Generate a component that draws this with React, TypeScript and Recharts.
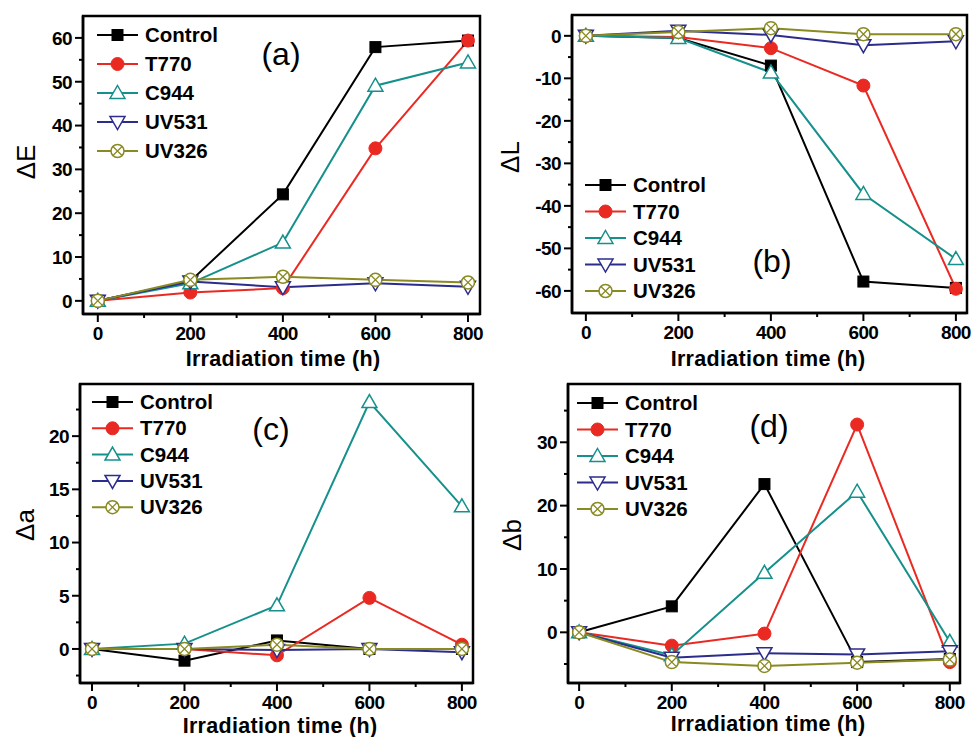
import React from "react";
import { LineChart, Line, XAxis, YAxis, ReferenceArea } from "recharts";

const FONT = '"Liberation Sans", Arial, Helvetica, sans-serif';

// x values (irradiation time, h)
const TIMES = [0, 200, 400, 600, 800];
const X_MAJOR = [0, 200, 400, 600, 800];
const X_MINOR = [100, 300, 500, 700];

const SERIES_NAMES = ["Control", "T770", "C944", "UV531", "UV326"];
const SERIES_COLORS = ["#000000", "#ea2a22", "#16908b", "#2c2c8c", "#8a8a22"];
const SERIES_MARKERS = ["square", "circle", "up", "down", "cross"];

// (a) delta E
const E_CONTROL = [0, 4.5, 24.3, 57.9, 59.4];
const E_T770 = [0, 1.9, 2.9, 34.8, 59.4];
const E_C944 = [0, 4.0, 13.3, 49.1, 54.4];
const E_UV531 = [0, 4.4, 3.1, 4.0, 3.2];
const E_UV326 = [0, 4.8, 5.5, 4.8, 4.2];
const E_MAJOR = [0, 10, 20, 30, 40, 50, 60];
const E_MINOR = [5, 15, 25, 35, 45, 55];

// (b) delta L
const L_CONTROL = [0, -0.5, -7, -57.8, -59.3];
const L_T770 = [0, -0.3, -2.9, -11.7, -59.5];
const L_C944 = [0, -0.5, -8.6, -37.2, -52.5];
const L_UV531 = [0, 1.2, 0.2, -2.2, -1.3];
const L_UV326 = [0, 0.9, 1.8, 0.4, 0.4];
const L_MAJOR = [-60, -50, -40, -30, -20, -10, 0];
const L_MINOR = [-55, -45, -35, -25, -15, -5];

// (c) delta a
const A_CONTROL = [0, -1.1, 0.8, 0, 0];
const A_T770 = [0, 0, -0.6, 4.8, 0.4];
const A_C944 = [0, 0.5, 4.1, 23.2, 13.4];
const A_UV531 = [0, 0, -0.1, 0, -0.3];
const A_UV326 = [0, 0, 0.4, 0, 0];
const A_MAJOR = [0, 5, 10, 15, 20];
const A_MINOR = [-2.5, 2.5, 7.5, 12.5, 17.5, 22.5];

// (d) delta b
const B_CONTROL = [0, 4.1, 23.4, -4.7, -4.2];
const B_T770 = [0, -2.1, -0.2, 32.8, -4.7];
const B_C944 = [0, -3.6, 9.4, 22.2, -1.5];
const B_UV531 = [0, -4.0, -3.3, -3.5, -3.0];
const B_UV326 = [0, -4.7, -5.3, -4.8, -4.3];
const B_MAJOR = [0, 10, 20, 30];
const B_MINOR = [-5, 5, 15, 25, 35];

const YW = 78;
const MT = 10;
const MR = 6;
const XH = 50;

type Panel = {
  id: string;
  series: number[][];
  yDomain: [number, number];
  xDomain: [number, number];
  yMajor: number[];
  yMinor: number[];
  rect: { l: number; t: number; r: number; b: number };
};

const PANELS: Panel[] = [
  {
    id: "a",
    series: [E_CONTROL, E_T770, E_C944, E_UV531, E_UV326],
    yDomain: [-3, 65],
    xDomain: [-32, 826],
    yMajor: E_MAJOR,
    yMinor: E_MINOR,
    rect: { l: 83, t: 16, r: 480, b: 314 },
  },
  {
    id: "b",
    series: [L_CONTROL, L_T770, L_C944, L_UV531, L_UV326],
    yDomain: [-65.2, 4.9],
    xDomain: [-30, 824],
    yMajor: L_MAJOR,
    yMinor: L_MINOR,
    rect: { l: 572, t: 15, r: 967, b: 313 },
  },
  {
    id: "c",
    series: [A_CONTROL, A_T770, A_C944, A_UV531, A_UV326],
    yDomain: [-3.2, 24.9],
    xDomain: [-26, 824],
    yMajor: A_MAJOR,
    yMinor: A_MINOR,
    rect: { l: 80, t: 384, r: 473, b: 683 },
  },
  {
    id: "d",
    series: [B_CONTROL, B_T770, B_C944, B_UV531, B_UV326],
    yDomain: [-8, 39.2],
    xDomain: [-24, 822],
    yMajor: B_MAJOR,
    yMinor: B_MINOR,
    rect: { l: 568, t: 384, r: 960, b: 683 },
  },
];

// overlay text positions
const LEGENDS = [
  { x: 97, y: 35, step: 29 },
  { x: 585, y: 185, step: 26.5 },
  { x: 92, y: 402, step: 26.3 },
  { x: 577, y: 403, step: 26.5 },
];
const LETTERS = [
  { text: "(a)", x: 281, y: 55 },
  { text: "(b)", x: 772, y: 262 },
  { text: "(c)", x: 271, y: 430 },
  { text: "(d)", x: 769, y: 427 },
];
const Y_TITLES = [
  { text: "ΔE", x: 26, y: 162 },
  { text: "ΔL", x: 510, y: 157 },
  { text: "Δa", x: 25, y: 525 },
  { text: "Δb", x: 512, y: 535 },
];
const X_TITLES = [
  { x: 283, y: 366 },
  { x: 768, y: 366 },
  { x: 280, y: 733 },
  { x: 768, y: 731 },
];

function Marker({ kind, cx, cy, color }: { kind: string; cx: number; cy: number; color: string }) {
  if (kind === "square")
    return <rect x={cx - 5.5} y={cy - 5.5} width={11} height={11} fill={color} stroke={color} />;
  if (kind === "circle") return <circle cx={cx} cy={cy} r={6.5} fill={color} stroke={color} />;
  if (kind === "up")
    return (
      <path
        d={`M${cx},${cy - 7.5} L${cx + 7.5},${cy + 5.5} L${cx - 7.5},${cy + 5.5} Z`}
        fill="#fff"
        stroke={color}
        strokeWidth={1.5}
      />
    );
  if (kind === "down")
    return (
      <path
        d={`M${cx - 7.5},${cy - 5.5} L${cx + 7.5},${cy - 5.5} L${cx},${cy + 7.5} Z`}
        fill="#fff"
        stroke={color}
        strokeWidth={1.5}
      />
    );
  return (
    <g>
      <circle cx={cx} cy={cy} r={6.5} fill="#fff" stroke={color} strokeWidth={1.5} />
      <path
        d={`M${cx - 4.3},${cy - 4.3} L${cx + 4.3},${cy + 4.3} M${cx - 4.3},${cy + 4.3} L${cx + 4.3},${cy - 4.3}`}
        stroke={color}
        strokeWidth={1.3}
      />
    </g>
  );
}

function makeXTick(major: number[]) {
  return (p: any) => {
    const { x, y, payload } = p;
    const v = payload.value;
    const isMajor = major.includes(v);
    return (
      <g key={`xt${v}`}>
        <line x1={x} x2={x} y1={y} y2={y + (isMajor ? 8 : 4)} stroke="#000" strokeWidth={2} />
        {isMajor && (
          <text
            x={x}
            y={y + 26}
            textAnchor="middle"
            fontFamily={FONT}
            fontWeight="bold"
            fontSize={19}
            letterSpacing={-0.6}
            fill="#000"
          >
            {v}
          </text>
        )}
      </g>
    );
  };
}

function makeYTick(major: number[]) {
  return (p: any) => {
    const { x, y, payload } = p;
    const v = payload.value;
    const isMajor = major.includes(v);
    return (
      <g key={`yt${v}`}>
        <line x1={x} x2={x - (isMajor ? 8 : 4)} y1={y} y2={y} stroke="#000" strokeWidth={2} />
        {isMajor && (
          <text
            x={x - 11}
            y={y}
            dy="0.36em"
            textAnchor="end"
            fontFamily={FONT}
            fontWeight="bold"
            fontSize={19}
            letterSpacing={-0.6}
            fill="#000"
          >
            {v}
          </text>
        )}
      </g>
    );
  };
}

function PanelChart({ cfg }: { cfg: Panel }) {
  const rows = TIMES.map((t, i) => {
    const row: any = { t };
    SERIES_NAMES.forEach((name, s) => {
      row[name] = cfg.series[s][i];
    });
    return row;
  });
  const { l, t, r, b } = cfg.rect;
  const w = r - l + YW + MR;
  const h = b - t + MT + XH;
  const xTicks = [...X_MAJOR, ...X_MINOR].sort((p, q) => p - q);
  const yTicks = [...cfg.yMajor, ...cfg.yMinor].sort((p, q) => p - q);

  return (
    <div style={{ position: "absolute", left: l - YW, top: t - MT, width: w, height: h }}>
      <LineChart width={w} height={h} data={rows} margin={{ top: MT, right: MR, bottom: 0, left: 0 }}>
        <XAxis
          dataKey="t"
          type="number"
          domain={cfg.xDomain}
          ticks={xTicks}
          interval={0}
          allowDataOverflow
          height={XH}
          tickSize={0}
          tickMargin={0}
          tickLine={false}
          axisLine={{ stroke: "#000", strokeWidth: 2.5 }}
          tick={makeXTick(X_MAJOR)}
        />
        <YAxis
          type="number"
          domain={cfg.yDomain}
          ticks={yTicks}
          interval={0}
          allowDataOverflow
          width={YW}
          tickSize={0}
          tickMargin={0}
          tickLine={false}
          axisLine={{ stroke: "#000", strokeWidth: 2.5 }}
          tick={makeYTick(cfg.yMajor)}
        />
        <ReferenceArea
          x1={cfg.xDomain[0]}
          x2={cfg.xDomain[1]}
          y1={cfg.yDomain[0]}
          y2={cfg.yDomain[1]}
          fill="none"
          stroke="#000"
          strokeWidth={2.5}
          ifOverflow="visible"
        />
        {SERIES_NAMES.map((name, s) => (
          <Line
            key={name}
            dataKey={name}
            stroke={SERIES_COLORS[s]}
            strokeWidth={2}
            activeDot={false}
            isAnimationActive={false}
            dot={(p: any) => (
              <Marker
                key={`${name}-${p.index}`}
                kind={SERIES_MARKERS[s]}
                cx={p.cx}
                cy={p.cy}
                color={SERIES_COLORS[s]}
              />
            )}
          />
        ))}
      </LineChart>
    </div>
  );
}

function Overlay() {
  return (
    <svg
      width={971}
      height={737}
      style={{ position: "absolute", left: 0, top: 0, pointerEvents: "none" }}
    >
      {LEGENDS.map((lg, k) => (
        <g key={`lg${k}`}>
          {SERIES_NAMES.map((name, s) => {
            const cy = lg.y + s * lg.step;
            return (
              <g key={name}>
                <line x1={lg.x} x2={lg.x + 41} y1={cy} y2={cy} stroke={SERIES_COLORS[s]} strokeWidth={2} />
                <Marker kind={SERIES_MARKERS[s]} cx={lg.x + 20.5} cy={cy} color={SERIES_COLORS[s]} />
                <text
                  x={lg.x + 48}
                  y={cy + 7}
                  fontFamily={FONT}
                  fontWeight="bold"
                  fontSize={20.5}
                  fill="#000"
                >
                  {name}
                </text>
              </g>
            );
          })}
        </g>
      ))}
      {LETTERS.map((lt) => (
        <text
          key={lt.text}
          x={lt.x}
          y={lt.y + 10}
          textAnchor="middle"
          fontFamily={FONT}
          fontSize={32}
          fill="#000"
        >
          {lt.text}
        </text>
      ))}
      {Y_TITLES.map((yt) => (
        <text
          key={yt.text}
          x={yt.x}
          y={yt.y}
          dy="0.35em"
          textAnchor="middle"
          transform={`rotate(-90 ${yt.x} ${yt.y})`}
          fontFamily={FONT}
          fontSize={26}
          fill="#000"
        >
          {yt.text}
        </text>
      ))}
      {X_TITLES.map((xt, k) => (
        <text
          key={`xt${k}`}
          x={xt.x}
          y={xt.y}
          textAnchor="middle"
          fontFamily={FONT}
          fontWeight="bold"
          fontSize={21.5}
          letterSpacing={0.3}
          fill="#000"
        >
          Irradiation time (h)
        </text>
      ))}
    </svg>
  );
}

export default function App() {
  return (
    <div
      style={{
        position: "absolute",
        left: 0,
        top: 0,
        width: 971,
        height: 737,
        background: "#fff",
        overflow: "hidden",
      }}
    >
      {PANELS.map((p) => (
        <PanelChart key={p.id} cfg={p} />
      ))}
      <Overlay />
    </div>
  );
}
